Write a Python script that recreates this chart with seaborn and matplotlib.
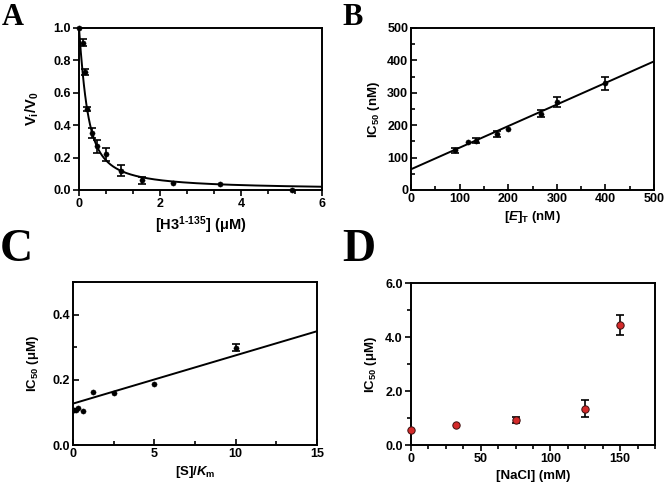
import numpy as np
import matplotlib
matplotlib.use("Agg")
import matplotlib.pyplot as plt
import seaborn as sns
from matplotlib.ticker import AutoMinorLocator, MultipleLocator, FormatStrFormatter

# Panel A: inhibition by H3(1-135)
h3_conc = [0.0, 0.09, 0.15, 0.2, 0.31, 0.45, 0.67, 1.04, 1.56, 2.32, 3.49, 5.26]
vi_v0 = [1.0, 0.91, 0.73, 0.50, 0.35, 0.27, 0.22, 0.12, 0.06, 0.045, 0.035, 0.0]
vi_err = [0.0, 0.02, 0.02, 0.01, 0.03, 0.04, 0.04, 0.035, 0.02, 0.0, 0.0, 0.0]
morrison_e = 0.16   # fitted enzyme conc (uM)
morrison_ki = 0.12  # fitted Ki (uM)

# Panel B: IC50 vs enzyme concentration
enzyme_t = [90, 118, 133, 177, 200, 267, 300, 400]
ic50_b = [123, 147, 152, 172, 189, 236, 272, 329]
ic50_b_err = [8, 0, 8, 9, 0, 10, 15, 20]
fit_b = (64.0, 0.666)  # intercept, slope

# Panel C: IC50 vs [S]/Km
s_km = [0.08, 0.16, 0.31, 0.625, 1.25, 2.5, 5.0, 10.0]
ic50_c = [0.106, 0.106, 0.114, 0.103, 0.163, 0.158, 0.188, 0.299]
ic50_c_err = [0, 0, 0, 0, 0, 0, 0, 0.01]
fit_c = (0.127, 0.0148)

# Panel D: IC50 vs NaCl
nacl = [0, 32, 75, 125, 150]
ic50_d = [0.57, 0.73, 0.93, 1.35, 4.45]
ic50_d_err = [0, 0, 0.1, 0.32, 0.37]

sns.set_style("ticks")
plt.rcParams["font.family"] = ["Liberation Sans", "DejaVu Sans"]
plt.rcParams["font.weight"] = "bold"
plt.rcParams["axes.labelweight"] = "bold"
plt.rcParams["text.color"] = "black"
plt.rcParams["axes.labelcolor"] = "black"
plt.rcParams["xtick.color"] = "black"
plt.rcParams["ytick.color"] = "black"
plt.rcParams["mathtext.fontset"] = "custom"
plt.rcParams["mathtext.rm"] = "Liberation Sans:bold"
plt.rcParams["mathtext.bf"] = "Liberation Sans:bold"
plt.rcParams["mathtext.it"] = "Liberation Sans:italic:bold"
plt.rcParams["mathtext.default"] = "rm"

fig = plt.figure(figsize=(6.64, 4.87), dpi=100)
W, H = 664, 487


def add_ax(l, t, r, b):
    return fig.add_axes([l / W, 1 - b / H, (r - l) / W, (b - t) / H])


def style(ax, direction, lsize=9.5, ypad=4):
    for s in ax.spines.values():
        s.set_visible(True)
        s.set_linewidth(1.4)
        s.set_color("black")
    ax.tick_params(which="both", direction=direction, width=1.2, colors="black",
                   labelsize=9, pad=2)
    ax.tick_params(which="major", length=4)
    ax.tick_params(which="minor", length=3)
    for lab in ax.get_xticklabels() + ax.get_yticklabels():
        lab.set_fontweight("bold")
    ax.xaxis.label.set_size(lsize)
    ax.yaxis.label.set_size(lsize)
    ax.xaxis.labelpad = 3
    ax.yaxis.labelpad = ypad


def err(ax, x, y, e):
    # only draw bars that are larger than the marker
    keep = [i for i, v in enumerate(e) if v > 0]
    ax.errorbar([x[i] for i in keep], [y[i] for i in keep], yerr=[e[i] for i in keep],
                fmt="none", ecolor="black", elinewidth=1.2, capsize=3, capthick=1.2)


# ---- A
axA = add_ax(79, 28, 322, 190)
xs = np.linspace(0, 6, 400)
s = morrison_e + xs + morrison_ki
curve = 1 - (s - np.sqrt(s ** 2 - 4 * morrison_e * xs)) / (2 * morrison_e)
sns.lineplot(x=xs, y=curve, ax=axA, color="black", lw=1.4)
err(axA, h3_conc, vi_v0, vi_err)
sns.scatterplot(x=h3_conc, y=vi_v0, ax=axA, color="black", s=14, edgecolor="black", zorder=3, clip_on=False)
axA.set_xlim(0, 6)
axA.set_ylim(0, 1.0)
axA.xaxis.set_major_locator(MultipleLocator(2))
axA.xaxis.set_minor_locator(AutoMinorLocator(3))
axA.yaxis.set_major_locator(MultipleLocator(0.2))
axA.yaxis.set_major_formatter(FormatStrFormatter("%.1f"))
axA.set_xlabel(r"[H3$^{1\text{-}135}$] ($\mathregular{\mu}$M)")
axA.set_ylabel(r"V$_\mathregular{i}$/V$_\mathregular{0}$")
style(axA, "out", lsize=10.5, ypad=9)

# ---- B
axB = add_ax(411, 28, 654, 190)
xb = np.array([0, 500])
sns.lineplot(x=xb, y=fit_b[0] + fit_b[1] * xb, ax=axB, color="black", lw=1.4)
err(axB, enzyme_t, ic50_b, ic50_b_err)
sns.scatterplot(x=enzyme_t, y=ic50_b, ax=axB, color="black", s=14, edgecolor="black", zorder=3)
axB.set_xlim(0, 500)
axB.set_ylim(0, 500)
axB.xaxis.set_major_locator(MultipleLocator(100))
axB.xaxis.set_minor_locator(AutoMinorLocator(2))
axB.yaxis.set_major_locator(MultipleLocator(100))
axB.yaxis.set_minor_locator(AutoMinorLocator(2))
axB.set_xlabel(r"[$\mathit{E}$]$_\mathregular{T}$ (nM)")
axB.set_ylabel(r"IC$_{50}$ (nM)")
style(axB, "in")

# ---- C
axC = add_ax(73, 282, 317, 445)
xc = np.array([0, 15])
sns.lineplot(x=xc, y=fit_c[0] + fit_c[1] * xc, ax=axC, color="black", lw=1.4)
err(axC, s_km, ic50_c, ic50_c_err)
sns.scatterplot(x=s_km, y=ic50_c, ax=axC, color="black", s=14, edgecolor="black", zorder=3)
axC.set_xlim(0, 15)
axC.set_ylim(0, 0.5)
axC.xaxis.set_major_locator(MultipleLocator(5))
axC.xaxis.set_minor_locator(AutoMinorLocator(2))
axC.yaxis.set_major_locator(MultipleLocator(0.2))
axC.yaxis.set_minor_locator(AutoMinorLocator(2))
axC.yaxis.set_major_formatter(FormatStrFormatter("%.1f"))
axC.set_xlabel(r"[S]/$\mathit{K}_\mathregular{m}$")
axC.set_ylabel(r"IC$_{50}$ ($\mathregular{\mu}$M)")
style(axC, "in", ypad=8)

# ---- D
axD = add_ax(411, 283, 655, 445)
err(axD, nacl, ic50_d, ic50_d_err)
sns.scatterplot(x=nacl, y=ic50_d, ax=axD, color="#d42a2a", s=28, edgecolor="#3a1010", linewidth=0.7, zorder=3, clip_on=False)
axD.set_xlim(0, 175)
axD.set_ylim(0, 6)
axD.xaxis.set_major_locator(MultipleLocator(50))
axD.xaxis.set_minor_locator(AutoMinorLocator(4))
axD.yaxis.set_major_locator(MultipleLocator(2))
axD.yaxis.set_minor_locator(AutoMinorLocator(2))
axD.yaxis.set_major_formatter(FormatStrFormatter("%.1f"))
axD.set_xlabel("[NaCl] (mM)")
axD.set_ylabel(r"IC$_{50}$ ($\mathregular{\mu}$M)")
style(axD, "out")

# panel letters
kw = dict(family="Liberation Serif", weight="bold", va="baseline", ha="left", color="black")
fig.text(2 / W, 1 - 25 / H, "A", size=22, **kw)
fig.text(342 / W, 1 - 25 / H, "B", size=22, **kw)
fig.text(0 / W, 1 - 261 / H, "C", size=33, **kw)
fig.text(342 / W, 1 - 261 / H, "D", size=33, **kw)

fig.savefig("out.png", dpi=100)
